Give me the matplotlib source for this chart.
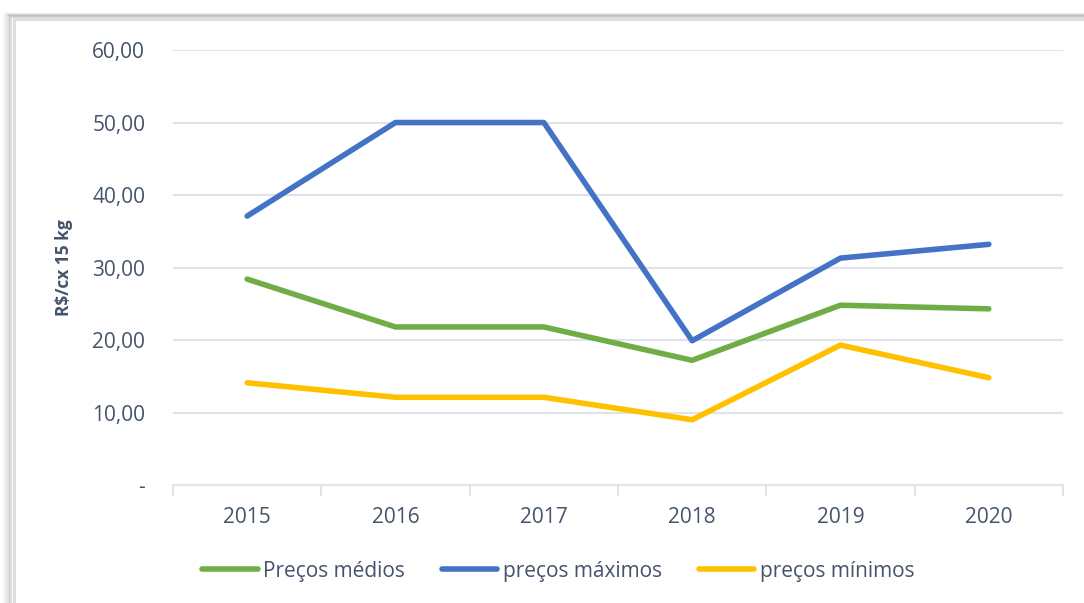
import matplotlib
matplotlib.use("Agg")
import matplotlib.pyplot as plt
from matplotlib.patches import Rectangle
from matplotlib.ticker import FuncFormatter, FixedLocator

anos = ["2015", "2016", "2017", "2018", "2019", "2020"]
precos_medios = [28.4, 21.8, 21.8, 17.2, 24.8, 24.3]
precos_maximos = [37.1, 50.0, 50.0, 19.9, 31.3, 33.2]
precos_minimos = [14.1, 12.1, 12.1, 9.0, 19.3, 14.8]

txt = "#44546A"
grid_c = "#E0E4EA"
plt.rcParams['font.family'] = ['Open Sans', 'DejaVu Sans']

fig = plt.figure(figsize=(10.84, 6.03), dpi=100)
# chart border with a soft shadow
for i, a in enumerate([0.06, 0.09, 0.12]):
    off = (3 - i) * 0.002
    fig.patches.append(Rectangle((0.011 - off, -0.1), 1.2, 1.071 + off, transform=fig.transFigure,
                                 fill=False, edgecolor="#000000", alpha=a, lw=2.5))
fig.patches.append(Rectangle((0.013, -0.1), 1.2, 1.069, transform=fig.transFigure,
                             fill=False, edgecolor="#D9DCE0", lw=2))

ax = fig.add_axes([0.1596, 0.1957, 0.821, 0.7213])
x = range(len(anos))
ax.plot(x, precos_medios, color="#70AD47", lw=4, solid_capstyle="round", label="Preços médios")
ax.plot(x, precos_maximos, color="#4472C4", lw=4, solid_capstyle="round", label="preços máximos")
ax.plot(x, precos_minimos, color="#FFC000", lw=4, solid_capstyle="round", label="preços mínimos")

ax.set_xlim(-0.5, len(anos) - 0.5)
ax.set_ylim(0, 60)
ax.set_yticks([0, 10, 20, 30, 40, 50, 60])
ax.yaxis.set_major_formatter(FuncFormatter(lambda v, p: "-" if v == 0 else f"{v:.2f}".replace(".", ",")))
ax.set_xticks(list(x))
ax.set_xticklabels(anos)
ax.xaxis.set_minor_locator(FixedLocator([i - 0.5 for i in range(len(anos) + 1)]))
ax.tick_params(axis="x", which="major", length=0, pad=16, labelsize=15, labelcolor=txt)
ax.tick_params(axis="x", which="minor", length=8, width=1.5, color=grid_c, direction="out")
ax.tick_params(axis="y", length=0, pad=20, labelsize=15, labelcolor=txt)
ax.grid(axis="y", color=grid_c, lw=1.5)
ax.set_axisbelow(True)
for s in ["top", "right", "left"]:
    ax.spines[s].set_visible(False)
ax.spines["bottom"].set_color(grid_c)
ax.spines["bottom"].set_linewidth(1.5)

ax.set_ylabel("R$/cx 15 kg", fontsize=12.5, fontweight="bold", color=txt, labelpad=14)

leg = fig.legend(loc="center", bbox_to_anchor=(0.515, 0.053), ncol=3, frameon=False,
                 fontsize=15, handlelength=2.65, handletextpad=0.25, columnspacing=1.8)
for t in leg.get_texts():
    t.set_color(txt)

fig.savefig("out.png", dpi=100)
